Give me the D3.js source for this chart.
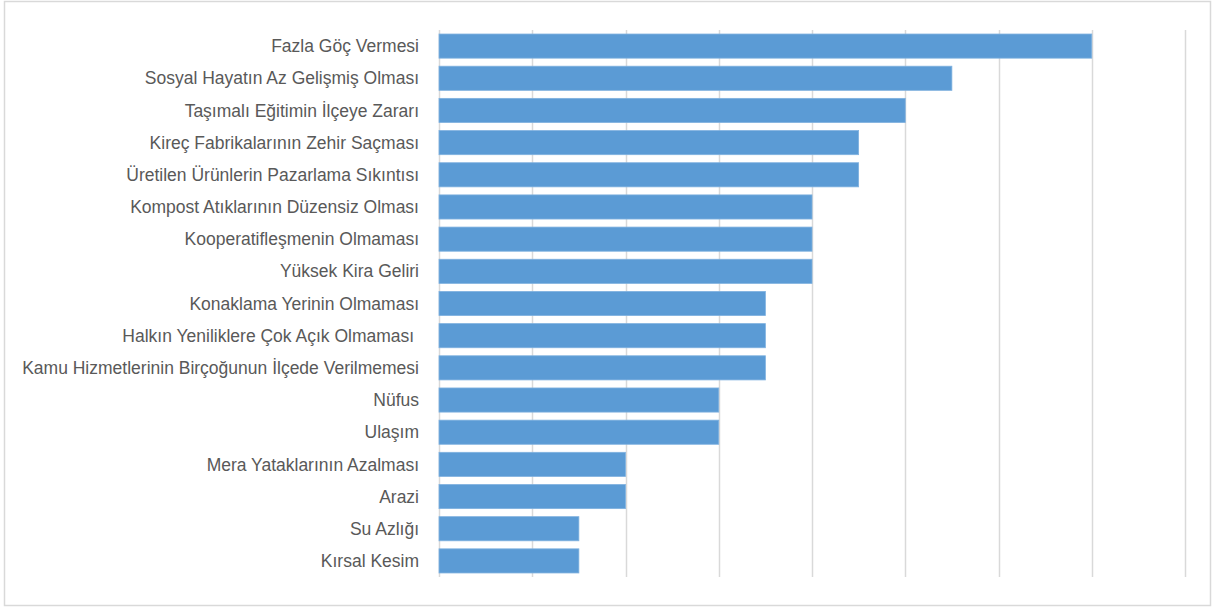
<!DOCTYPE html>
<html>
<head>
<meta charset="utf-8">
<script src="https://cdn.jsdelivr.net/npm/d3@7"></script>
<style>
  html, body { margin: 0; padding: 0; background: #fff; }
  svg { display: block; }
  .label { font-family: "Liberation Sans", Arial, sans-serif; font-size: 17.5px; fill: #595959; white-space: pre; }
</style>
</head>
<body>
<svg id="chart" width="1215" height="608"></svg>
<script>
// Problems listed by how often they were mentioned
const categories = [
  "Fazla Göç Vermesi",
  "Sosyal Hayatın Az Gelişmiş Olması",
  "Taşımalı Eğitimin İlçeye Zararı",
  "Kireç Fabrikalarının Zehir Saçması",
  "Üretilen Ürünlerin Pazarlama Sıkıntısı",
  "Kompost Atıklarının Düzensiz Olması",
  "Kooperatifleşmenin Olmaması",
  "Yüksek Kira Geliri",
  "Konaklama Yerinin Olmaması",
  "Halkın Yeniliklere Çok Açık Olmaması ",
  "Kamu Hizmetlerinin Birçoğunun İlçede Verilmemesi",
  "Nüfus",
  "Ulaşım",
  "Mera Yataklarının Azalması",
  "Arazi",
  "Su Azlığı",
  "Kırsal Kesim"
];
const values = [7, 5.5, 5, 4.5, 4.5, 4, 4, 4, 3.5, 3.5, 3.5, 3, 3, 2, 2, 1.5, 1.5];
const gridTicks = [0, 1, 2, 3, 4, 5, 6, 7, 8];

const svg = d3.select("#chart");
const W = 1215, H = 608;
const plot = { left: 439, right: 1185, top: 30, bottom: 577 };

// outer frame
svg.append("rect")
  .attr("x", 4.5).attr("y", 1.5)
  .attr("width", W - 9).attr("height", H - 4)
  .attr("fill", "#fff")
  .attr("stroke", "#d9d9d9")
  .attr("stroke-width", 1.5);

const x = d3.scaleLinear().domain([0, 8]).range([plot.left, plot.right]);
const y = d3.scaleBand().domain(categories).range([plot.top, plot.bottom]).paddingInner(0.25).paddingOuter(0.125);

// vertical gridlines
svg.append("g")
  .selectAll("line")
  .data(gridTicks)
  .join("line")
  .attr("x1", d => Math.round(x(d)) + 0.5)
  .attr("x2", d => Math.round(x(d)) + 0.5)
  .attr("y1", plot.top)
  .attr("y2", plot.bottom)
  .attr("stroke", "#d9d9d9")
  .attr("stroke-width", 1.5);

// bars
svg.append("g")
  .selectAll("rect")
  .data(categories)
  .join("rect")
  .attr("x", x(0))
  .attr("y", d => y(d))
  .attr("width", (d, i) => x(values[i]) - x(0))
  .attr("height", y.bandwidth())
  .attr("fill", "#5b9bd5")
  .attr("stroke", "#7fb1df")
  .attr("stroke-width", 0.8);

// category labels
const yAxis = d3.axisLeft(y).tickSize(0).tickPadding(0);
const ag = svg.append("g").attr("transform", `translate(${plot.left - 20},0)`).call(yAxis);
ag.select(".domain").remove();
ag.selectAll("text")
  .attr("class", "label")
  .attr("font-family", null)
  .attr("font-size", null)
  .attr("fill", null)
  .attr("dy", "0.35em");
</script>
</body>
</html>
